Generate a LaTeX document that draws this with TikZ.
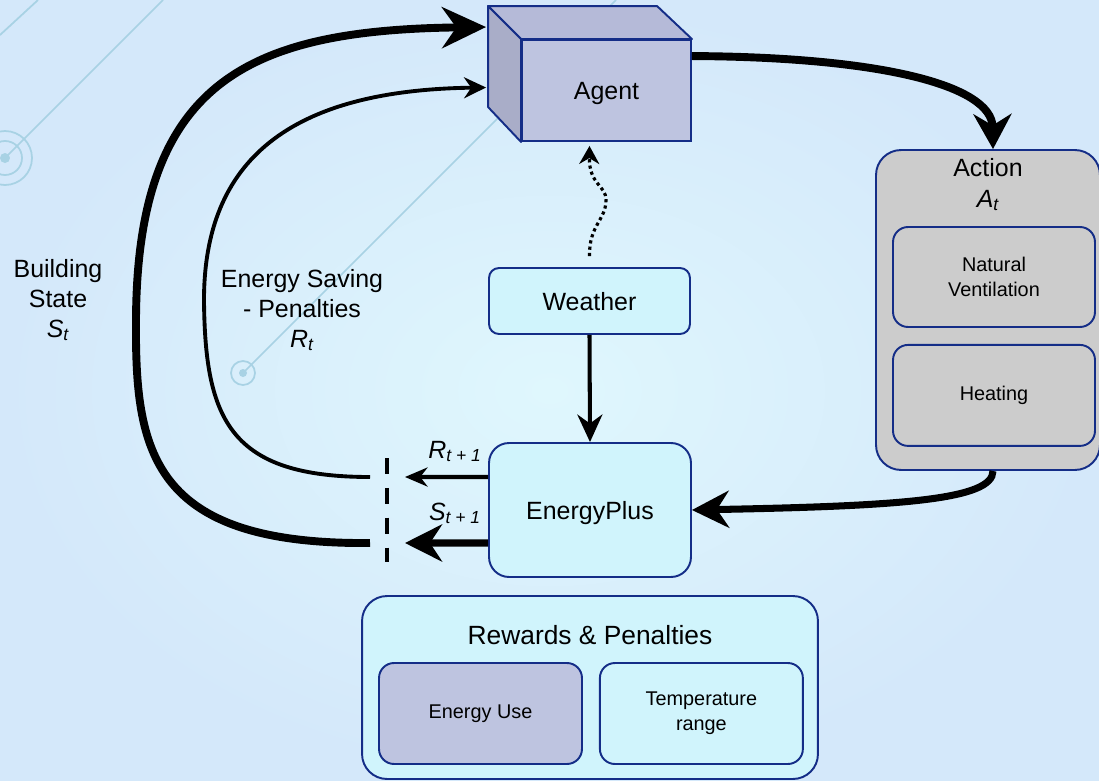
\documentclass[tikz,border=0pt]{standalone}
\usepackage{fontspec}
\setmainfont{Liberation Sans}
\usetikzlibrary{positioning,arrows.meta,calc}
\definecolor{rlblue}{RGB}{20,45,135}
\definecolor{rlcyan}{RGB}{208,244,252}
\definecolor{rllav}{RGB}{190,196,224}
\definecolor{rllavtop}{RGB}{181,186,216}
\definecolor{rllavside}{RGB}{169,173,200}
\definecolor{rlgray}{RGB}{204,204,204}
\definecolor{rldeco}{RGB}{168,210,228}
\definecolor{rlbgin}{RGB}{223,247,253}
\definecolor{rlbgout}{RGB}{212,232,250}

\begin{document}
\begin{tikzpicture}[x=0.02cm, y=-0.02cm, node distance=0.32cm,
    every node/.style={font=\fontsize{14.2}{17}\selectfont},
    box/.style={draw=rlblue, line width=1.1pt, rounded corners=0.4cm, inner sep=0pt, align=center},
    small/.style={font=\fontsize{11.3}{14}\selectfont},
    deco/.style={rldeco, line width=1pt}]
      % background
      \shade[inner color=rlbgin, outer color=rlbgout] (0,0) rectangle (1099,781);
      \useasboundingbox (0,0) rectangle (1099,781);
      \draw[deco] (5,158) -- (163,0);
      \draw[deco] (0,35) -- (38,0);
      \draw[deco] (243,373) -- (616,0);
      \draw[deco] (5,158) circle (0.54cm) (5,158) circle (0.34cm);
      \fill[rldeco] (5,158) circle (0.1cm);
      \draw[deco] (243,373) circle (0.24cm);
      \fill[rldeco] (243,373) circle (0.08cm);

      % boxes
      \node[box, fill=rllav, rounded corners=0pt, text depth=0pt, minimum width=3.38cm, minimum height=2.02cm] (agent) at (606.5,90.5) {Agent};
      \filldraw[fill=rllavtop, draw=rlblue, line width=1.1pt, line join=round] (agent.north west) -- ++(-33,-33) -- ++(169,0) -- (agent.north east) -- cycle;
      \filldraw[fill=rllavside, draw=rlblue, line width=1.1pt, line join=round] (agent.north west) -- ++(-33,-33) -- ++(0,101) -- (agent.south west) -- cycle;
      \node[box, fill=rlcyan, rounded corners=0.2cm, text depth=0pt, minimum width=4.02cm, minimum height=1.32cm] (weather) at (589.5,301) {Weather};
      \node[box, fill=rlcyan, text depth=0pt, minimum width=4.04cm, minimum height=2.68cm] (eplus) at (590,510) {EnergyPlus};
      \node[box, fill=rlgray, rounded corners=0.5cm, minimum width=4.48cm, minimum height=6.4cm] (action) at (988,310) {};
      \node[anchor=base] (actlbl) at (988,176) {Action};
      \node[anchor=base] (atlbl) at (988,207) {\textit{A\textsubscript{t}}};
      \node[box, small, fill=rlgray, rounded corners=0.3cm, minimum width=4.04cm, minimum height=2cm] (natvent) at (994,277) {Natural\\Ventilation};
      \node[box, small, fill=rlgray, rounded corners=0.3cm, minimum width=4.04cm, minimum height=2.02cm, below=of natvent] (heating) {Heating};
      \node[box, fill=rlcyan, rounded corners=0.5cm, minimum width=9.12cm, minimum height=3.66cm] (rewards) at (590,687.5) {};
      \node[anchor=base, font=\fontsize{15}{18}\selectfont] (rwlbl) at (590,644) {Rewards \& Penalties};
      \node[box, small, fill=rllav, rounded corners=0.3cm, minimum width=4.06cm, minimum height=2.02cm] (energyuse) at (480.5,713.5) {Energy Use};
      \node[box, small, fill=rlcyan, rounded corners=0.3cm, minimum width=4.06cm, minimum height=2.02cm, right=of energyuse] (temprange) {Temperature\\range};

      % loop labels
      \node[align=center, anchor=base] (statelbl) at (58,337) {Building\\State\\\textit{S\textsubscript{t}}};
      \node[align=center, anchor=base] (rewlbl) at (302,347) {Energy Saving\\- Penalties\\\textit{R\textsubscript{t}}};
      \node[anchor=base] (rnext) at (455,458) {\textit{R\textsubscript{t + 1}}};
      \node[anchor=base] (snext) at (455,520) {\textit{S\textsubscript{t + 1}}};

      \coordinate (rtip) at (405,477);
      \coordinate (stip) at (405,543);
      \coordinate (cuttop) at (387,458);
      \coordinate (cutbot) at (387,562);
      \coordinate (rstart) at (370,477);
      \coordinate (sstart) at (370,543);

      % connectors
      \draw[line width=4.5pt, -{Stealth[length=0.7cm, width=0.76cm]}] ($(agent.north east)+(0,17)$) .. controls (880,57) and (992,85) .. ([xshift=0.1cm]action.north);
      \draw[line width=4pt, -{Stealth[length=0.74cm, width=0.74cm]}] ([xshift=0.1cm]action.south) .. controls (993,500) and (900,506) .. (eplus.east);
      \draw[line width=2.3pt, -{Stealth[length=0.55cm, width=0.5cm]}] (weather.south) -- (eplus.north);
      \draw[line width=1.8pt, dash pattern=on 1.8pt off 1.8pt, -{Stealth[length=0.36cm, width=0.4cm]}] ($(weather.north)+(0,-11)$) .. controls (589,225) and (606,220) .. (606,200) .. controls (606,185) and (589,185) .. ($(agent.south)+(-17,4)$);
      \draw[line width=2.3pt, -{Stealth[length=0.45cm, width=0.38cm]}] ([yshift=0.66cm]eplus.west) -- (rtip);
      \draw[line width=4pt, -{Stealth[length=0.74cm, width=0.74cm]}] ([yshift=-0.66cm]eplus.west) -- (stip);
      \draw[line width=2.8pt, dash pattern=on 9pt off 8pt] (cuttop) -- (cutbot);
      \draw[line width=2.2pt, -{Stealth[length=0.44cm, width=0.42cm]}] (rstart) .. controls (230,477) and (205,420) .. (204,300) .. controls (204,160) and (290,90) .. ($(agent.west)+(-35,-3)$);
      \draw[line width=4.5pt, -{Stealth[length=0.88cm, width=0.82cm]}] (sstart) .. controls (150,545) and (135,450) .. (136,320) .. controls (137,80) and (250,30) .. ($(agent.north west)+(-35,-12)$);
    \end{tikzpicture}
\end{document}
